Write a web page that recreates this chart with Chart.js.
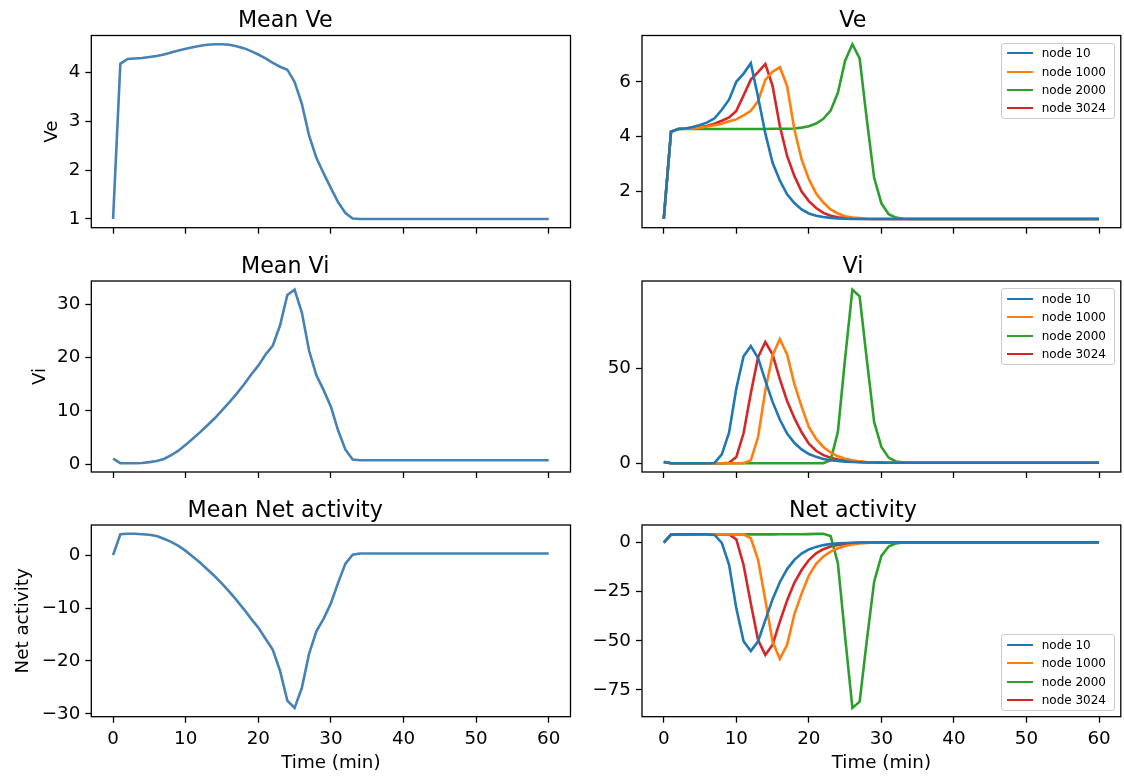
<!DOCTYPE html>
<html>
<head>
<meta charset="utf-8">
<script src="https://cdn.jsdelivr.net/npm/chart.js@4.4.0/dist/chart.umd.min.js"></script>
<style>
html,body{margin:0;padding:0;background:#fff;}
#fig{position:relative;width:1124px;height:776px;overflow:hidden;background:#fff;}
.cell{position:absolute;}
.cell canvas{display:block;}
.leg{position:absolute;box-sizing:border-box;border:1px solid #cccccc;border-radius:3px;background:rgba(255,255,255,0.8);
     font-family:'DejaVu Sans';font-size:12px;color:#000;padding:0.6px 0 0 5px;}
.leg .row{display:flex;align-items:center;height:18.4px;white-space:nowrap;}
.leg .sw{display:inline-block;width:26px;height:0;border-top:2.6px solid;margin-right:9px;}
</style>
</head>
<body>
<div id="fig"></div>
<script>
// ---------------- data ----------------
const times = [0,1,2,3,4,5,6,7,8,9,10,11,12,13,14,15,16,17,18,19,20,21,22,23,24,25,26,27,28,29,30,
  31,32,33,34,35,36,37,38,39,40,41,42,43,44,45,46,47,48,49,50,51,52,53,54,55,56,57,58,59,60];

const xTicks = [0,10,20,30,40,50,60];
const meanVeTicks = [1,2,3,4];
const veTicks = [2,4,6];
const meanViTicks = [0,10,20,30];
const viTicks = [0,50];
const meanNetTicks = [-30,-20,-10,0];
const netTicks = [-75,-50,-25,0];

const meanVe = [
  1.00,4.17,4.27,4.28,4.29,4.31,4.33,4.36,4.40,4.44,
  4.48,4.51,4.54,4.56,4.57,4.57,4.56,4.53,4.49,4.43,
  4.36,4.28,4.19,4.11,4.05,3.80,3.35,2.70,2.25,1.93,
  1.63,1.34,1.12,1.01,1.00,1.00,1.00,1.00,1.00,1.00,
  1.00,1.00,1.00,1.00,1.00,1.00,1.00,1.00,1.00,1.00,
  1.00,1.00,1.00,1.00,1.00,1.00,1.00,1.00,1.00,1.00,
  1.00];

const meanVi = [
  1.00,0.15,0.13,0.15,0.20,0.35,0.55,0.95,1.65,2.50,
  3.60,4.80,6.00,7.30,8.60,10.1,11.6,13.2,14.9,16.8,
  18.5,20.6,22.3,26.1,31.8,32.8,28.5,21.3,16.7,13.9,
  10.8,6.30,2.70,0.85,0.70,0.70,0.70,0.70,0.70,0.70,
  0.70,0.70,0.70,0.70,0.70,0.70,0.70,0.70,0.70,0.70,
  0.70,0.70,0.70,0.70,0.70,0.70,0.70,0.70,0.70,0.70,
  0.70];

const meanNet = [
  0.00,3.95,4.05,4.05,3.95,3.85,3.60,3.10,2.50,1.75,
  0.80,-0.30,-1.45,-2.70,-4.00,-5.40,-6.90,-8.50,-10.2,-12.0,
  -13.7,-15.8,-17.9,-21.9,-27.5,-28.9,-25.1,-18.6,-14.4,-12.0,
  -9.10,-5.20,-1.60,0.10,0.30,0.30,0.30,0.30,0.30,0.30,
  0.30,0.30,0.30,0.30,0.30,0.30,0.30,0.30,0.30,0.30,
  0.30,0.30,0.30,0.30,0.30,0.30,0.30,0.30,0.30,0.30,
  0.30];

const nodeLabels = ['node 10','node 1000','node 2000','node 3024'];

const ve10 = [
  1.00,4.18,4.28,4.30,4.35,4.43,4.52,4.67,4.98,5.35,
  6.00,6.30,6.68,5.45,4.12,3.05,2.40,1.90,1.58,1.35,
  1.20,1.12,1.07,1.04,1.02,1.01,1.00,1.00,1.00,1.00,
  1.00,1.00,1.00,1.00,1.00,1.00,1.00,1.00,1.00,1.00,
  1.00,1.00,1.00,1.00,1.00,1.00,1.00,1.00,1.00,1.00,
  1.00,1.00,1.00,1.00,1.00,1.00,1.00,1.00,1.00,1.00,
  1.00];
const ve1000 = [
  1.00,4.18,4.28,4.29,4.30,4.33,4.37,4.42,4.47,4.56,
  4.63,4.78,4.94,5.30,6.07,6.37,6.53,5.85,4.27,3.17,
  2.45,1.93,1.60,1.35,1.20,1.10,1.05,1.03,1.01,1.00,
  1.00,1.00,1.00,1.00,1.00,1.00,1.00,1.00,1.00,1.00,
  1.00,1.00,1.00,1.00,1.00,1.00,1.00,1.00,1.00,1.00,
  1.00,1.00,1.00,1.00,1.00,1.00,1.00,1.00,1.00,1.00,
  1.00];
const ve2000 = [
  1.00,4.18,4.28,4.28,4.28,4.28,4.28,4.28,4.28,4.28,
  4.28,4.28,4.28,4.28,4.28,4.29,4.29,4.29,4.30,4.33,
  4.38,4.48,4.65,4.95,5.60,6.77,7.37,6.85,4.60,2.50,
  1.57,1.17,1.05,1.01,1.00,1.00,1.00,1.00,1.00,1.00,
  1.00,1.00,1.00,1.00,1.00,1.00,1.00,1.00,1.00,1.00,
  1.00,1.00,1.00,1.00,1.00,1.00,1.00,1.00,1.00,1.00,
  1.00];
const ve3024 = [
  1.00,4.18,4.28,4.30,4.32,4.35,4.40,4.47,4.58,4.70,
  4.94,5.50,6.08,6.35,6.65,5.85,4.39,3.30,2.57,2.00,
  1.65,1.40,1.22,1.12,1.06,1.04,1.02,1.01,1.00,1.00,
  1.00,1.00,1.00,1.00,1.00,1.00,1.00,1.00,1.00,1.00,
  1.00,1.00,1.00,1.00,1.00,1.00,1.00,1.00,1.00,1.00,
  1.00,1.00,1.00,1.00,1.00,1.00,1.00,1.00,1.00,1.00,
  1.00];

const vi10 = [
  0.90,0.20,0.20,0.20,0.20,0.20,0.25,0.40,4.90,16.3,
  39.5,56.5,61.8,55.6,43.7,32.5,23.2,15.8,11.0,7.50,
  5.10,3.60,2.50,1.80,1.40,1.10,0.90,0.75,0.65,0.60,
  0.55,0.50,0.50,0.50,0.50,0.50,0.50,0.50,0.50,0.50,
  0.50,0.50,0.50,0.50,0.50,0.50,0.50,0.50,0.50,0.50,
  0.50,0.50,0.50,0.50,0.50,0.50,0.50,0.50,0.50,0.50,
  0.50];
const vi1000 = [
  0.90,0.20,0.20,0.20,0.20,0.20,0.20,0.20,0.20,0.20,
  0.20,0.30,1.80,14.0,38.6,57.0,65.5,57.5,42.0,30.0,
  19.3,13.0,8.80,5.90,3.90,2.60,1.80,1.20,0.90,0.70,
  0.60,0.50,0.50,0.50,0.50,0.50,0.50,0.50,0.50,0.50,
  0.50,0.50,0.50,0.50,0.50,0.50,0.50,0.50,0.50,0.50,
  0.50,0.50,0.50,0.50,0.50,0.50,0.50,0.50,0.50,0.50,
  0.50];
const vi2000 = [
  0.90,0.20,0.20,0.20,0.20,0.20,0.20,0.20,0.20,0.20,
  0.20,0.20,0.20,0.20,0.20,0.20,0.20,0.20,0.20,0.20,
  0.20,0.20,0.30,1.80,16.7,55.5,91.5,88.0,54.4,21.9,
  8.80,3.20,1.20,0.70,0.50,0.50,0.50,0.50,0.50,0.50,
  0.50,0.50,0.50,0.50,0.50,0.50,0.50,0.50,0.50,0.50,
  0.50,0.50,0.50,0.50,0.50,0.50,0.50,0.50,0.50,0.50,
  0.50];
const vi3024 = [
  0.90,0.20,0.20,0.20,0.20,0.20,0.20,0.20,0.20,0.50,
  3.50,16.0,37.0,56.0,64.0,57.5,44.5,33.0,24.0,16.5,
  10.5,6.80,4.50,3.10,2.20,1.60,1.20,0.90,0.70,0.60,
  0.50,0.50,0.50,0.50,0.50,0.50,0.50,0.50,0.50,0.50,
  0.50,0.50,0.50,0.50,0.50,0.50,0.50,0.50,0.50,0.50,
  0.50,0.50,0.50,0.50,0.50,0.50,0.50,0.50,0.50,0.50,
  0.50];

const net10 = [
  0.00,4.05,4.15,4.15,4.18,4.20,4.22,3.90,-0.20,-11.2,
  -33.5,-50.2,-55.2,-50.3,-39.5,-28.8,-20.2,-13.5,-8.80,-5.60,
  -3.50,-2.20,-1.30,-0.70,-0.40,-0.20,-0.10,0.00,0.00,0.00,
  0.10,0.10,0.10,0.10,0.10,0.10,0.10,0.10,0.10,0.10,
  0.10,0.10,0.10,0.10,0.10,0.10,0.10,0.10,0.10,0.10,
  0.10,0.10,0.10,0.10,0.10,0.10,0.10,0.10,0.10,0.10,
  0.10];
const net1000 = [
  0.00,4.05,4.15,4.15,4.15,4.15,4.20,4.20,4.20,4.20,
  4.20,4.20,2.20,-8.80,-29.2,-50.4,-59.2,-52.0,-36.5,-26.0,
  -16.8,-10.8,-7.10,-4.60,-2.90,-1.70,-1.00,-0.50,-0.20,0.00,
  0.10,0.10,0.10,0.10,0.10,0.10,0.10,0.10,0.10,0.10,
  0.10,0.10,0.10,0.10,0.10,0.10,0.10,0.10,0.10,0.10,
  0.10,0.10,0.10,0.10,0.10,0.10,0.10,0.10,0.10,0.10,
  0.10];
const net2000 = [
  0.00,4.05,4.15,4.15,4.15,4.15,4.15,4.15,4.15,4.15,
  4.15,4.15,4.15,4.15,4.15,4.15,4.20,4.20,4.20,4.25,
  4.30,4.40,4.50,3.30,-10.5,-48.0,-84.2,-81.0,-49.6,-19.9,
  -6.80,-2.00,-0.40,0.00,0.10,0.10,0.10,0.10,0.10,0.10,
  0.10,0.10,0.10,0.10,0.10,0.10,0.10,0.10,0.10,0.10,
  0.10,0.10,0.10,0.10,0.10,0.10,0.10,0.10,0.10,0.10,
  0.10];
const net3024 = [
  0.00,4.05,4.15,4.15,4.15,4.15,4.20,4.20,4.20,4.15,
  1.60,-11.4,-31.0,-49.6,-57.2,-52.0,-40.2,-29.5,-20.5,-14.0,
  -8.90,-5.50,-3.40,-2.00,-1.20,-0.70,-0.30,-0.10,0.00,0.00,
  0.10,0.10,0.10,0.10,0.10,0.10,0.10,0.10,0.10,0.10,
  0.10,0.10,0.10,0.10,0.10,0.10,0.10,0.10,0.10,0.10,
  0.10,0.10,0.10,0.10,0.10,0.10,0.10,0.10,0.10,0.10,
  0.10];

// ---------------- styling / layout ----------------
const FONT = 'DejaVu Sans';
const TICK_SIZE = 18.3, LABEL_SIZE = 18.3, TITLE_SIZE = 22.2;
const MEAN_COLOR = '#4682b4';
const NODE_COLORS = ['#1f77b4', '#ff7f0e', '#2ca02c', '#d62728'];
const LINE_W = 2.6;
const LEG_W = 114.3, LEG_H = 76.7;

const COLS = [
  {canvasLeft: 0,   canvasWidth: 585, areaLeft: 91.3, areaRight: 570.5},
  {canvasLeft: 585, canvasWidth: 539, areaLeft: 642,  areaRight: 1120.8}
];
const ROWS = [
  {canvasTop: 0,   canvasHeight: 245, areaTop: 35.5, areaBottom: 227.7},
  {canvasTop: 245, canvasHeight: 245, areaTop: 281,  areaBottom: 472},
  {canvasTop: 490, canvasHeight: 286, areaTop: 525,  areaBottom: 716.7}
];

const specs = [
  {col:0,row:0,title:'Mean Ve',yLabel:'Ve',yLabelX:52,yTicks:meanVeTicks,
   series:[{label:'Mean Ve',data:meanVe,color:MEAN_COLOR}]},
  {col:1,row:0,title:'Ve',yTicks:veTicks,legend:'top',
   series:[ve10,ve1000,ve2000,ve3024].map((d,i)=>({label:nodeLabels[i],data:d,color:NODE_COLORS[i]}))},
  {col:0,row:1,title:'Mean Vi',yLabel:'Vi',yLabelX:40,yTicks:meanViTicks,
   series:[{label:'Mean Vi',data:meanVi,color:MEAN_COLOR}]},
  {col:1,row:1,title:'Vi',yTicks:viTicks,legend:'top',
   series:[vi10,vi1000,vi2000,vi3024].map((d,i)=>({label:nodeLabels[i],data:d,color:NODE_COLORS[i]}))},
  {col:0,row:2,title:'Mean Net activity',yLabel:'Net activity',yLabelX:23.5,yTicks:meanNetTicks,
   series:[{label:'Mean Net activity',data:meanNet,color:MEAN_COLOR}]},
  {col:1,row:2,title:'Net activity',yTicks:netTicks,legend:'bottom',
   series:[net10,net1000,net2000,net3024].map((d,i)=>({label:nodeLabels[i],data:d,color:NODE_COLORS[i]}))}
];

Chart.defaults.color = '#000';
Chart.defaults.font.family = FONT;

function tickFmt(v){ return String(v).replace('-', '\u2212'); }
function autoRange(arrs){
  let lo = Infinity, hi = -Infinity;
  arrs.forEach(a => a.forEach(v => { if (v < lo) lo = v; if (v > hi) hi = v; }));
  const m = (hi - lo) * 0.05;
  return [lo - m, hi + m];
}

const framePlugin = {
  id: 'frame',
  afterDatasetsDraw(chart){
    const {ctx, chartArea: a} = chart;
    ctx.save();
    ctx.strokeStyle = '#000';
    ctx.lineWidth = 1.3;
    ctx.strokeRect(a.left, a.top, a.right - a.left, a.bottom - a.top);
    ctx.restore();
  }
};

const htmlLegendPlugin = {
  id: 'htmlLegend',
  afterUpdate(chart, args, opts){
    if (!opts || !opts.where) return;
    const wrap = chart.canvas.parentNode;
    let box = wrap.querySelector('.leg');
    if (!box){ box = document.createElement('div'); box.className = 'leg'; wrap.appendChild(box); }
    box.innerHTML = '';
    chart.data.datasets.forEach(ds => {
      const row = document.createElement('div'); row.className = 'row';
      const sw = document.createElement('span'); sw.className = 'sw'; sw.style.borderTopColor = ds.borderColor;
      const tx = document.createElement('span'); tx.textContent = ds.label;
      row.appendChild(sw); row.appendChild(tx); box.appendChild(row);
    });
    const a = chart.chartArea;
    box.style.width = LEG_W + 'px';
    box.style.height = LEG_H + 'px';
    box.style.left = (a.right - 5.8 - LEG_W) + 'px';
    box.style.top = (opts.where === 'top' ? a.top + 7 : a.bottom - 6 - LEG_H) + 'px';
  }
};

const fig = document.getElementById('fig');

function makeChart(spec){
  const col = COLS[spec.col], row = ROWS[spec.row];
  const cw = col.canvasWidth, ch = row.canvasHeight;
  const wrap = document.createElement('div');
  wrap.className = 'cell';
  wrap.style.left = col.canvasLeft + 'px';
  wrap.style.top = row.canvasTop + 'px';
  wrap.style.width = cw + 'px';
  wrap.style.height = ch + 'px';
  const cv = document.createElement('canvas');
  cv.width = cw; cv.height = ch;
  cv.style.width = cw + 'px'; cv.style.height = ch + 'px';
  wrap.appendChild(cv);
  fig.appendChild(wrap);

  const L = col.areaLeft - col.canvasLeft;
  const R = col.canvasLeft + cw - col.areaRight;
  const T = row.areaTop - row.canvasTop;
  const B = row.canvasTop + ch - row.areaBottom;
  const titleLH = TITLE_SIZE * 1.2;
  const titleOffset = 14;
  const labelLH = LABEL_SIZE * 1.2;
  const [ymin, ymax] = autoRange(spec.series.map(s => s.data));
  const bottomRow = spec.row === 2;
  const yTickList = spec.yTicks;

  const gridOpts = {display:true, drawOnChartArea:false, drawTicks:true, tickLength:6, tickWidth:1.3, tickColor:'#000'};

  new Chart(cv, {
    type: 'line',
    data: {
      labels: times,
      datasets: spec.series.map(s => ({
        label: s.label, data: s.data, borderColor: s.color, backgroundColor: s.color,
        borderWidth: LINE_W, pointRadius: 0, pointHoverRadius: 0, tension: 0, fill: false
      }))
    },
    options: {
      responsive: false, animation: false, devicePixelRatio: 1,
      events: [],
      layout: {padding: {left: 0, right: R, top: 0, bottom: 0}},
      plugins: {
        legend: {display: false},
        tooltip: {enabled: false},
        title: {
          display: true, text: spec.title, color: '#000',
          font: {family: FONT, size: TITLE_SIZE, weight: 'normal', lineHeight: 1.2},
          padding: {top: T - titleOffset - titleLH / 2, bottom: titleOffset - titleLH / 2}
        },
        htmlLegend: spec.legend ? {where: spec.legend} : {}
      },
      scales: {
        x: {
          type: 'linear', min: -3, max: 63,
          afterFit(s){ s.height = B; },
          afterBuildTicks(s){ s.ticks = xTicks.map(v => ({value: v})); },
          grid: gridOpts,
          border: {display: false},
          ticks: {display: bottomRow, autoSkip: false, maxRotation: 0, padding: 6,
                  color: '#000', font: {family: FONT, size: TICK_SIZE}, callback: tickFmt},
          title: {display: bottomRow, text: 'Time (min)', color: '#000',
                  font: {family: FONT, size: LABEL_SIZE, lineHeight: 1.2},
                  padding: {top: 0, bottom: 13 - labelLH / 2}}
        },
        y: {
          type: 'linear', min: ymin, max: ymax,
          afterFit(s){ s.width = L; },
          afterBuildTicks(s){ s.ticks = yTickList.map(v => ({value: v})); },
          grid: gridOpts,
          border: {display: false},
          ticks: {autoSkip: false, padding: 5,
                  color: '#000', font: {family: FONT, size: TICK_SIZE}, callback: tickFmt},
          title: {display: !!spec.yLabel, text: spec.yLabel || '', color: '#000',
                  font: {family: FONT, size: LABEL_SIZE, lineHeight: 1.2},
                  padding: {top: (spec.yLabelX || 20) - labelLH / 2, bottom: 0}}
        }
      }
    },
    plugins: [framePlugin, htmlLegendPlugin]
  });
}

specs.forEach(makeChart);
</script>
</body>
</html>
